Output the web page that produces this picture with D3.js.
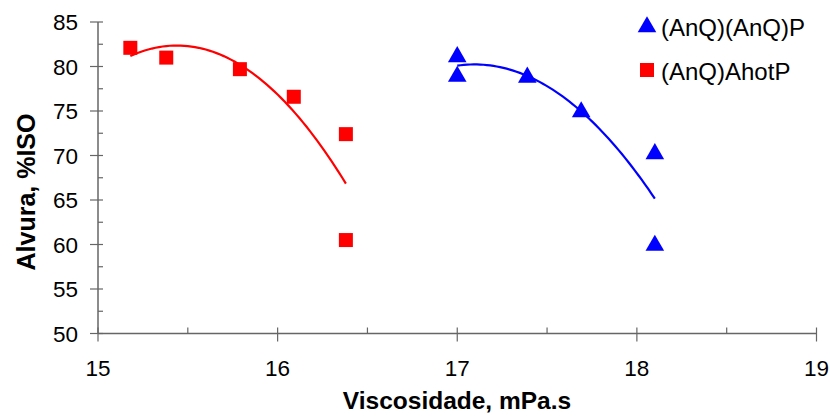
<!DOCTYPE html>
<html>
<head>
<meta charset="utf-8">
<script src="https://cdn.jsdelivr.net/npm/d3@7"></script>
<style>
  body { margin: 0; background: #fff; }
  text { font-family: "Liberation Sans", Arial, sans-serif; fill: #000; }
</style>
</head>
<body>
<div class="container"></div>
<script>
// data
var redX = [15.18, 15.38, 15.79, 16.09, 16.38, 16.38];
var redY = [82.1, 81.0, 79.7, 76.6, 72.4, 60.5];
var blueX = [17.0, 17.0, 17.39, 17.69, 18.1, 18.1];
var blueY = [81.2, 79.0, 78.9, 75.0, 70.3, 60.0];
var seriesNames = ['(AnQ)(AnQ)P', '(AnQ)AhotP'];
var xTicks = [15, 16, 17, 18, 19];
var yTicks = [50, 55, 60, 65, 70, 75, 80, 85];

var width = 830, height = 418;
var svg = d3.select('.container')
            .append('svg')
                .attr('width', width)
                .attr('height', height);

var x = d3.scaleLinear().domain([15, 19]).range([98, 816.5]);
var y = d3.scaleLinear().domain([50, 85]).range([333.5, 22]);

var axisColor = '#666';

// 2nd order polynomial trendline (least squares), like the spreadsheet does
function polyFit(xs, ys) {
    var n = xs.length, s = [0, 0, 0, 0, 0], t = [0, 0, 0];
    for (var i = 0; i < n; i++) {
        for (var k = 0; k < 5; k++) s[k] += Math.pow(xs[i], k);
        for (var k = 0; k < 3; k++) t[k] += ys[i] * Math.pow(xs[i], k);
    }
    var m = [[s[0], s[1], s[2], t[0]], [s[1], s[2], s[3], t[1]], [s[2], s[3], s[4], t[2]]];
    for (var c = 0; c < 3; c++) {
        for (var r = c + 1; r < 3; r++) {
            var f = m[r][c] / m[c][c];
            for (var j = c; j < 4; j++) m[r][j] -= f * m[c][j];
        }
    }
    var coef = [0, 0, 0];
    for (var r = 2; r >= 0; r--) {
        var v = m[r][3];
        for (var j = r + 1; j < 3; j++) v -= m[r][j] * coef[j];
        coef[r] = v / m[r][r];
    }
    return function(v) { return coef[0] + coef[1] * v + coef[2] * v * v; };
}

function drawFit(xs, ys, color) {
    var f = polyFit(xs, ys);
    var x0 = d3.min(xs), x1 = d3.max(xs);
    var pts = d3.range(0, 61).map(function(i) { var v = x0 + (x1 - x0) * i / 60; return [v, f(v)]; });
    svg.append('path')
        .datum(pts)
        .attr('d', d3.line().x(function(d) { return x(d[0]); }).y(function(d) { return y(d[1]); }))
        .style('fill', 'none')
        .style('stroke', color)
        .style('stroke-width', 2.2);
}

// axes
var yAxis = svg.append('g');
yAxis.append('line')
    .attr('x1', x(15)).attr('x2', x(15))
    .attr('y1', y(85)).attr('y2', y(50))
    .style('stroke', axisColor).style('stroke-width', 1.5);
yAxis.selectAll('.major')
    .data(yTicks)
    .enter().append('line')
        .attr('x1', x(15) - 8).attr('x2', x(15) + 5)
        .attr('y1', function(d) { return y(d); }).attr('y2', function(d) { return y(d); })
        .style('stroke', axisColor).style('stroke-width', 1.2);
yAxis.selectAll('.minor')
    .data(d3.range(52.5, 85, 5))
    .enter().append('line')
        .attr('x1', x(15)).attr('x2', x(15) + 5)
        .attr('y1', function(d) { return y(d); }).attr('y2', function(d) { return y(d); })
        .style('stroke', axisColor).style('stroke-width', 1.2);
yAxis.selectAll('text')
    .data(yTicks)
    .enter().append('text')
        .attr('x', 78)
        .attr('y', function(d) { return y(d); })
        .attr('dy', '0.36em')
        .attr('text-anchor', 'end')
        .style('font-size', '22.5px')
        .text(function(d) { return d; });

var xAxis = svg.append('g');
xAxis.append('line')
    .attr('x1', x(15)).attr('x2', x(19))
    .attr('y1', y(50)).attr('y2', y(50))
    .style('stroke', axisColor).style('stroke-width', 1.5);
xAxis.selectAll('.major')
    .data(xTicks)
    .enter().append('line')
        .attr('x1', function(d) { return x(d); }).attr('x2', function(d) { return x(d); })
        .attr('y1', y(50) - 6).attr('y2', y(50) + 8)
        .style('stroke', axisColor).style('stroke-width', 1.2);
xAxis.selectAll('.minor')
    .data(d3.range(15.5, 19, 1))
    .enter().append('line')
        .attr('x1', function(d) { return x(d); }).attr('x2', function(d) { return x(d); })
        .attr('y1', y(50) - 6).attr('y2', y(50))
        .style('stroke', axisColor).style('stroke-width', 1.2);
xAxis.selectAll('text')
    .data(xTicks)
    .enter().append('text')
        .attr('x', function(d) { return x(d); })
        .attr('y', 376)
        .attr('text-anchor', 'middle')
        .style('font-size', '22.5px')
        .text(function(d) { return d; });

// axis titles
svg.append('text')
    .attr('x', 457).attr('y', 409)
    .attr('text-anchor', 'middle')
    .style('font-size', '24.5px').style('font-weight', 'bold')
    .text('Viscosidade, mPa.s');
svg.append('text')
    .attr('transform', 'translate(35,192) rotate(-90)')
    .attr('text-anchor', 'middle')
    .style('font-size', '25px').style('font-weight', 'bold')
    .text('Alvura, %ISO');

// trendlines
drawFit(redX, redY, '#ff0000');
drawFit(blueX, blueY, '#0000ff');

// markers
var tri = d3.symbol().type(d3.symbolTriangle).size(150);
svg.selectAll('.sq')
    .data(d3.zip(redX, redY))
    .enter().append('rect')
        .attr('x', function(d) { return x(d[0]) - 7; })
        .attr('y', function(d) { return y(d[1]) - 7; })
        .attr('width', 14).attr('height', 14)
        .style('fill', '#ff0000');
svg.selectAll('.tri')
    .data(d3.zip(blueX, blueY))
    .enter().append('path')
        .attr('d', tri)
        .attr('transform', function(d) { return 'translate(' + x(d[0]) + ',' + (y(d[1]) + 1) + ')'; })
        .style('fill', '#0000ff');

// legend
var legend = svg.append('g');
legend.append('path')
    .attr('d', tri)
    .attr('transform', 'translate(647,27)')
    .style('fill', '#0000ff');
legend.append('rect')
    .attr('x', 640).attr('y', 63)
    .attr('width', 14).attr('height', 14)
    .style('fill', '#ff0000');
legend.selectAll('text')
    .data(seriesNames)
    .enter().append('text')
        .attr('x', 661)
        .attr('y', function(d, i) { return 36 + i * 44; })
        .style('font-size', '24px')
        .text(function(d) { return d; });
</script>
</body>
</html>
